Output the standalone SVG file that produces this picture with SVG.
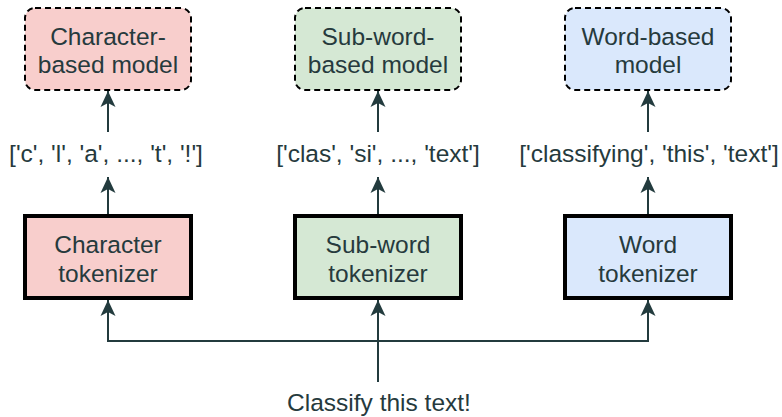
<svg xmlns="http://www.w3.org/2000/svg" width="782" height="417" viewBox="0 0 782 417">
  <style>
    text { font-family: "Liberation Sans", Arial, sans-serif; font-size: 24.5px; fill: #263a3d; text-anchor: middle; }
    .model { stroke: #000; stroke-width: 2; stroke-dasharray: 6 4; }
    .tok { stroke: #000; stroke-width: 4; }
    .char { fill: #f8cecc; }
    .sub { fill: #d5e8d4; }
    .word { fill: #dae8fc; }
    .edge { fill: none; stroke: #233b3e; stroke-width: 2; }
  </style>
  <defs>
    <marker id="arrow" viewBox="0 -8 16 16" refX="16" refY="0" markerWidth="16" markerHeight="16" markerUnits="userSpaceOnUse" orient="auto">
      <path d="M16,0 L0,-7.5 L4,0 L0,7.5 Z" fill="#233b3e"/>
    </marker>
  </defs>

  <rect width="782" height="417" fill="#fff"/>

  <!-- connectors -->
  <g id="connectors">
    <path class="edge" d="M108,132 V91" marker-end="url(#arrow)"/>
    <path class="edge" d="M378,132 V91" marker-end="url(#arrow)"/>
    <path class="edge" d="M648,132 V91" marker-end="url(#arrow)"/>
    <path class="edge" d="M108,214 V177" marker-end="url(#arrow)"/>
    <path class="edge" d="M378,214 V177" marker-end="url(#arrow)"/>
    <path class="edge" d="M648,214 V177" marker-end="url(#arrow)"/>
    <path class="edge" d="M378,341 H108 V300" marker-end="url(#arrow)"/>
    <path class="edge" d="M378,341 H648 V300" marker-end="url(#arrow)"/>
    <path class="edge" d="M378,382 V300" marker-end="url(#arrow)"/>
  </g>

  <!-- models -->
  <g id="char-model">
    <rect class="model char" x="25" y="8" width="166" height="82" rx="10"/>
    <text x="108" y="45">Character-</text>
    <text x="108" y="73">based model</text>
  </g>
  <g id="subword-model">
    <rect class="model sub" x="295" y="8" width="166" height="82" rx="10"/>
    <text x="378" y="45">Sub-word-</text>
    <text x="378" y="73">based model</text>
  </g>
  <g id="word-model">
    <rect class="model word" x="565" y="8" width="166" height="82" rx="10"/>
    <text x="648" y="45">Word-based</text>
    <text x="648" y="73">model</text>
  </g>

  <!-- token lists -->
  <g id="char-tokens"><text x="106" y="162">['c', 'l', 'a', ..., 't', '!']</text></g>
  <g id="subword-tokens"><text x="378" y="162">['clas', 'si', ..., 'text']</text></g>
  <g id="word-tokens"><text x="649" y="162">['classifying', 'this', 'text']</text></g>

  <!-- tokenizers -->
  <g id="char-tokenizer">
    <rect class="tok char" x="25" y="216" width="166" height="82"/>
    <text x="108" y="253">Character</text>
    <text x="108" y="282">tokenizer</text>
  </g>
  <g id="subword-tokenizer">
    <rect class="tok sub" x="295" y="216" width="166" height="82"/>
    <text x="378" y="253">Sub-word</text>
    <text x="378" y="282">tokenizer</text>
  </g>
  <g id="word-tokenizer">
    <rect class="tok word" x="565" y="216" width="166" height="82"/>
    <text x="648" y="253">Word</text>
    <text x="648" y="282">tokenizer</text>
  </g>

  <!-- input -->
  <g id="input"><text x="379" y="411">Classify this text!</text></g>
</svg>
